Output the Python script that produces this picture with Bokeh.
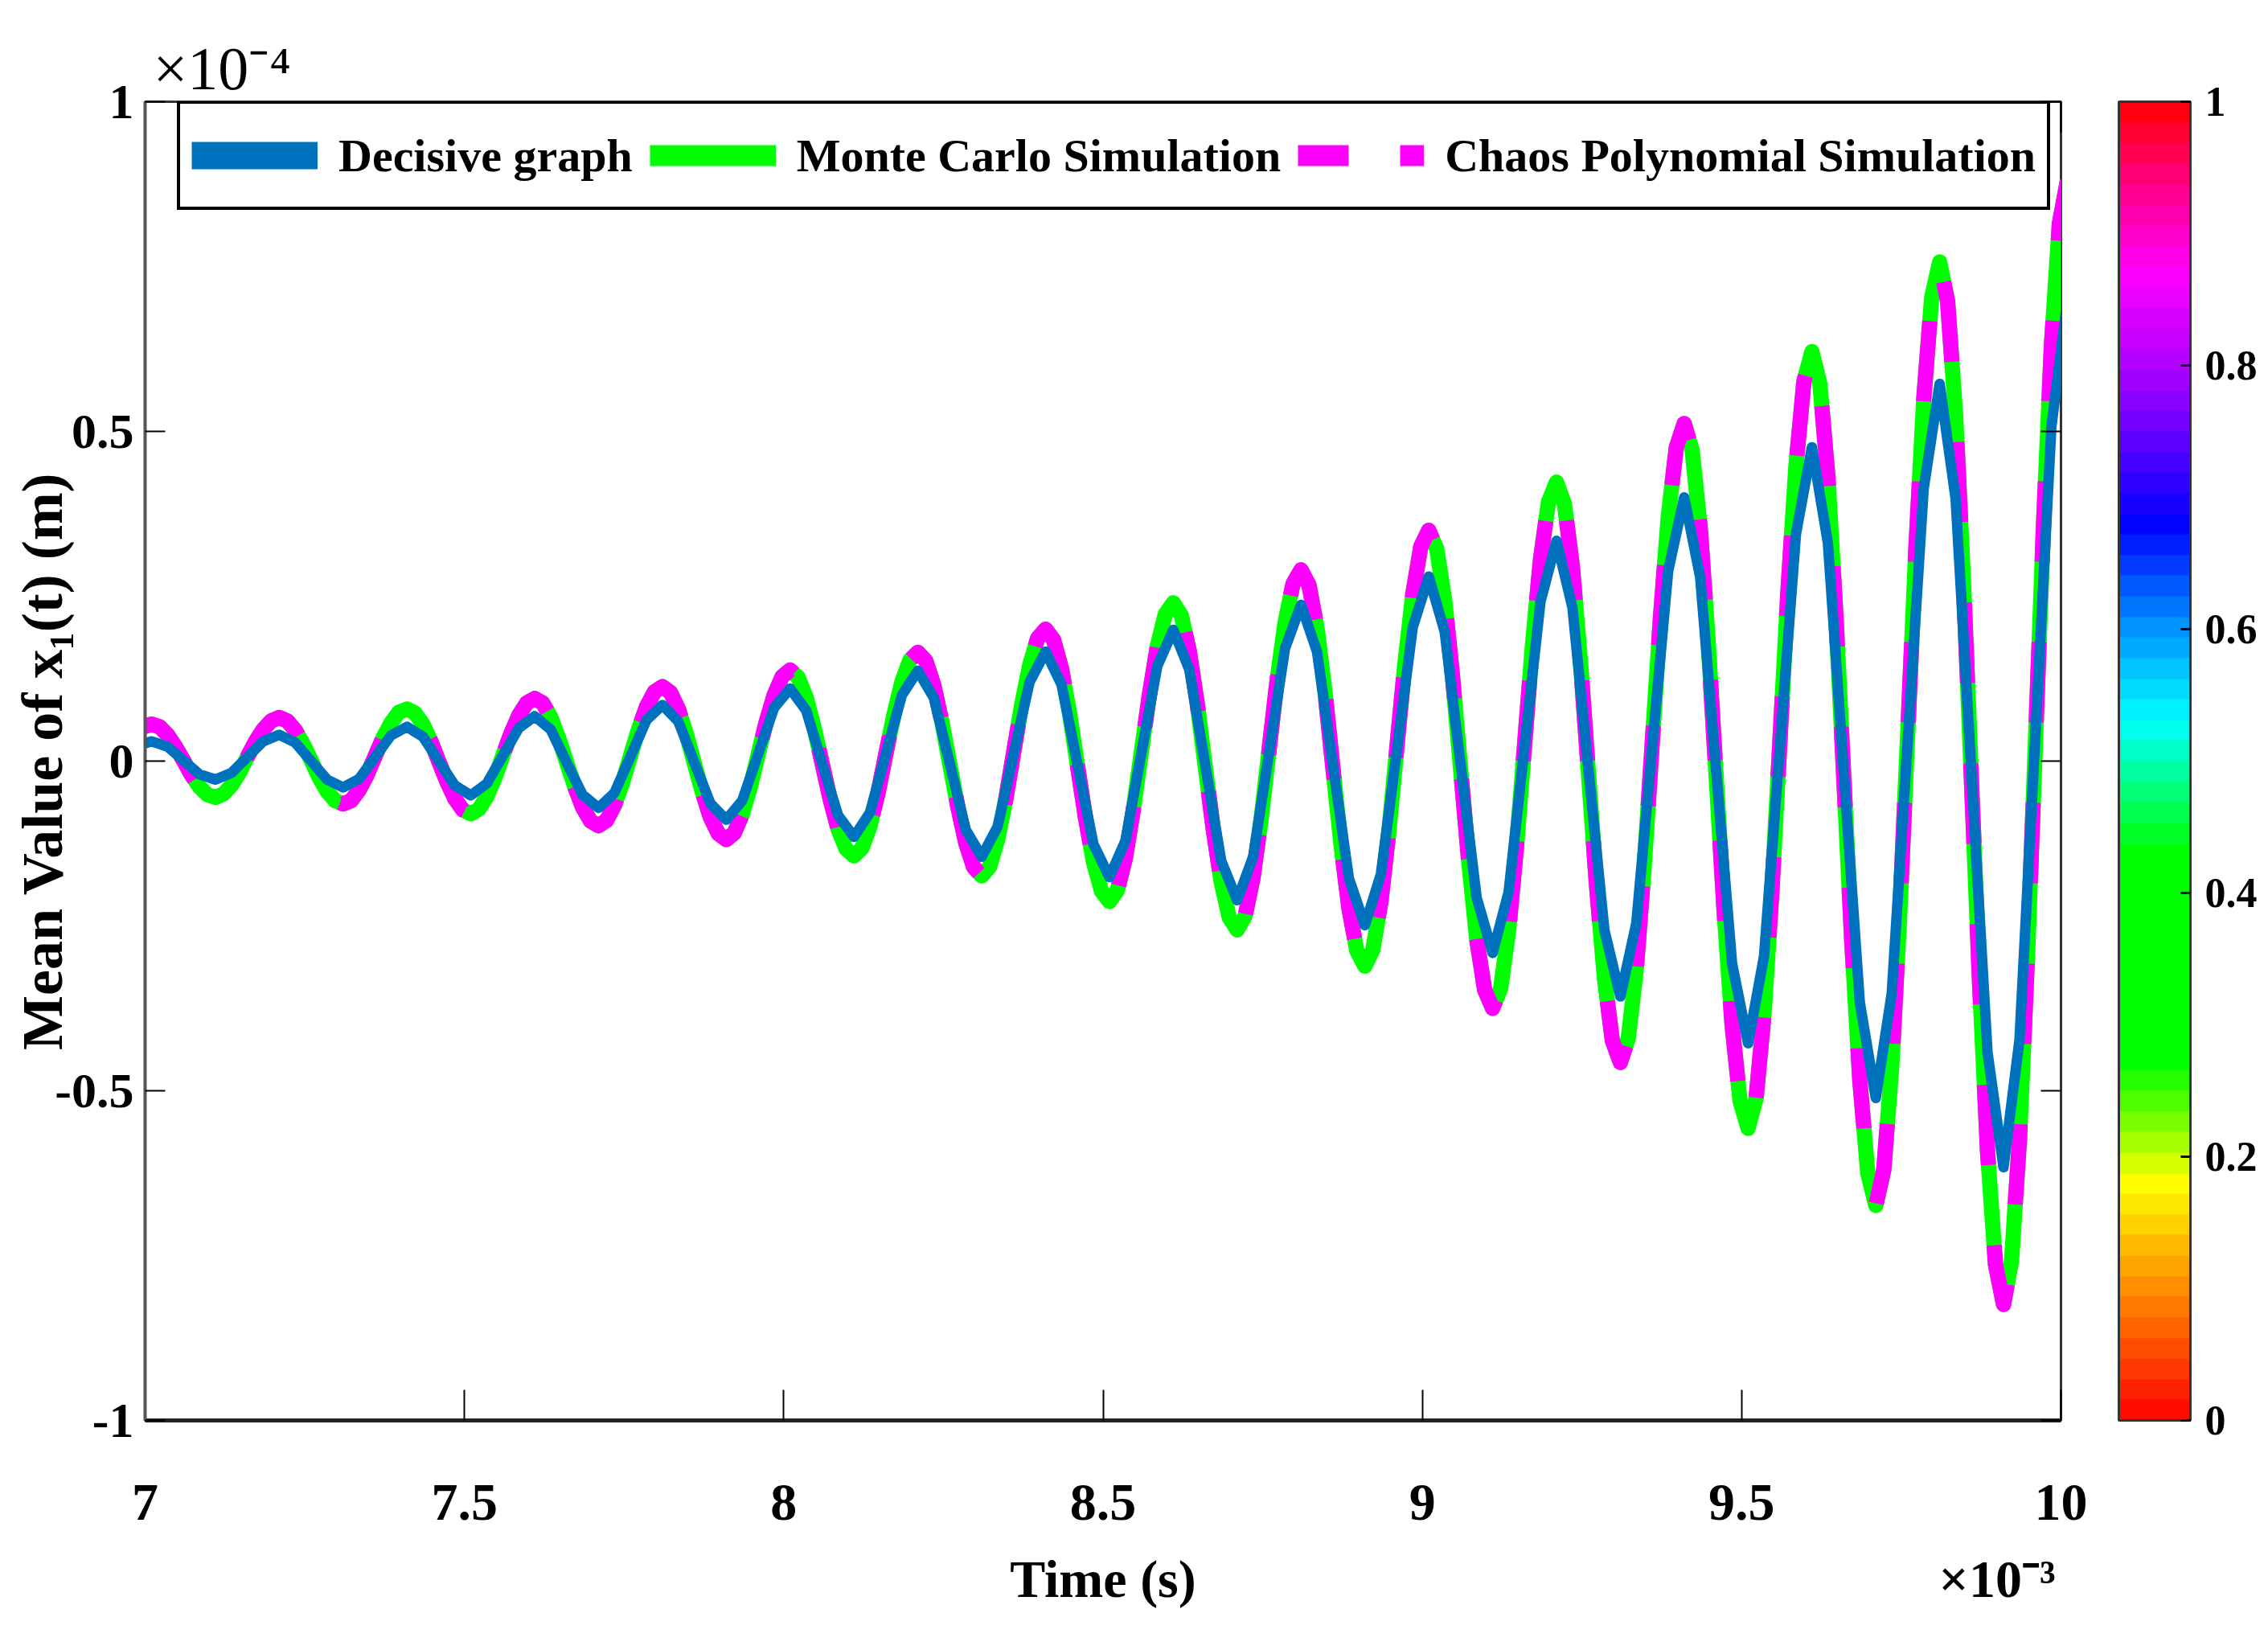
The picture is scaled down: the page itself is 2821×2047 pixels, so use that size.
from bokeh.plotting import figure
from bokeh.models import (Range1d, FixedTicker, CustomJSTickFormatter, LinearAxis, ColorBar,
                          LinearColorMapper, Legend, LegendItem, Title, ColumnDataSource)
from bokeh.embed import file_html
from bokeh.resources import INLINE

# ---------------- data (time in ms = x10^-3 s, displacement in x10^-4 m) ----------------
x_ticks = [7, 7.5, 8, 8.5, 9, 9.5, 10]
y_ticks = [-1, -0.5, 0, 0.5, 1]
cbar_ticks = [0, 0.2, 0.4, 0.6, 0.8, 1]
x_axis_label = "Time (s)"
x_exp_label = "\u00d710\u207b\u00b3"
y_exp_label = "\u00d710\u207b\u2074"
y_axis_label = "Mean Value of x\u2081(t) (m)"
series_labels = ["Decisive graph", "Monte Carlo Simulation", "Chaos Polynomial Simulation"]

# sample times of the read-off points
t_sim_ms = [round(7.01 + 0.0125 * k, 4) for k in range(-1, 241)]
t_dg_ms = [round(7.01 + 0.025 * k, 4) for k in range(-1, 121)]

monte_carlo = [
    0.052,
    0.056, 0.052, 0.040, 0.022, 0.001, -0.021, -0.039, -0.051,
    -0.055, -0.050, -0.037, -0.018, 0.006, 0.029, 0.048, 0.061,
    0.066, 0.061, 0.047, 0.026, 0.001, -0.025, -0.046, -0.060,
    -0.065, -0.060, -0.044, -0.021, 0.007, 0.035, 0.058, 0.074,
    0.079, 0.073, 0.056, 0.030, -0.001, -0.031, -0.057, -0.074,
    -0.080, -0.073, -0.054, -0.026, 0.008, 0.041, 0.069, 0.088,
    0.095, 0.088, 0.067, 0.035, -0.002, -0.038, -0.070, -0.091,
    -0.098, -0.090, -0.067, -0.033, 0.008, 0.048, 0.082, 0.105,
    0.113, 0.104, 0.079, 0.041, -0.003, -0.047, -0.085, -0.110,
    -0.119, -0.109, -0.081, -0.040, 0.010, 0.059, 0.100, 0.128,
    0.138, 0.127, 0.097, 0.051, -0.003, -0.057, -0.103, -0.133,
    -0.144, -0.132, -0.099, -0.049, 0.011, 0.070, 0.120, 0.153,
    0.165, 0.152, 0.115, 0.060, -0.005, -0.069, -0.124, -0.161,
    -0.174, -0.160, -0.119, -0.059, 0.013, 0.085, 0.145, 0.186,
    0.200, 0.184, 0.140, 0.073, -0.007, -0.086, -0.153, -0.197,
    -0.213, -0.196, -0.147, -0.073, 0.014, 0.100, 0.174, 0.223,
    0.240, 0.221, 0.167, 0.087, -0.008, -0.103, -0.183, -0.237,
    -0.256, -0.235, -0.176, -0.088, 0.017, 0.122, 0.210, 0.269,
    0.290, 0.267, 0.202, 0.105, -0.011, -0.126, -0.223, -0.288,
    -0.311, -0.286, -0.214, -0.107, 0.020, 0.146, 0.253, 0.325,
    0.350, 0.322, 0.244, 0.126, -0.013, -0.151, -0.269, -0.347,
    -0.375, -0.345, -0.258, -0.129, 0.024, 0.177, 0.306, 0.393,
    0.423, 0.390, 0.294, 0.152, -0.017, -0.186, -0.328, -0.424,
    -0.457, -0.420, -0.315, -0.158, 0.028, 0.213, 0.370, 0.475,
    0.512, 0.471, 0.355, 0.182, -0.023, -0.227, -0.400, -0.516,
    -0.557, -0.512, -0.384, -0.194, 0.032, 0.258, 0.448, 0.576,
    0.621, 0.572, 0.431, 0.222, -0.027, -0.275, -0.484, -0.625,
    -0.674, -0.620, -0.464, -0.233, 0.042, 0.316, 0.547, 0.703,
    0.757, 0.697, 0.525, 0.269, -0.034, -0.336, -0.592, -0.764,
    -0.824, -0.759, -0.574, -0.298, 0.028, 0.354, 0.630, 0.815,
    0.880,
]

chaos_polynomial = [
    0.052,
    0.056, 0.052, 0.040, 0.022, 0.001, -0.021, -0.039, -0.051,
    -0.055, -0.050, -0.037, -0.018, 0.006, 0.029, 0.048, 0.061,
    0.066, 0.061, 0.047, 0.026, 0.001, -0.025, -0.046, -0.060,
    -0.065, -0.060, -0.044, -0.021, 0.007, 0.035, 0.058, 0.074,
    0.079, 0.073, 0.056, 0.030, -0.001, -0.031, -0.057, -0.074,
    -0.080, -0.073, -0.054, -0.026, 0.008, 0.041, 0.069, 0.088,
    0.095, 0.088, 0.067, 0.035, -0.002, -0.038, -0.070, -0.091,
    -0.098, -0.090, -0.067, -0.033, 0.008, 0.048, 0.082, 0.105,
    0.113, 0.104, 0.079, 0.041, -0.003, -0.047, -0.085, -0.110,
    -0.119, -0.109, -0.081, -0.040, 0.010, 0.059, 0.100, 0.128,
    0.138, 0.127, 0.097, 0.051, -0.003, -0.057, -0.103, -0.133,
    -0.144, -0.132, -0.099, -0.049, 0.011, 0.070, 0.120, 0.153,
    0.165, 0.152, 0.115, 0.060, -0.005, -0.069, -0.124, -0.161,
    -0.174, -0.160, -0.119, -0.059, 0.013, 0.085, 0.145, 0.186,
    0.200, 0.184, 0.140, 0.073, -0.007, -0.086, -0.153, -0.197,
    -0.213, -0.196, -0.147, -0.073, 0.014, 0.100, 0.174, 0.223,
    0.240, 0.221, 0.167, 0.087, -0.008, -0.103, -0.183, -0.237,
    -0.256, -0.235, -0.176, -0.088, 0.017, 0.122, 0.210, 0.269,
    0.290, 0.267, 0.202, 0.105, -0.011, -0.126, -0.223, -0.288,
    -0.311, -0.286, -0.214, -0.107, 0.020, 0.146, 0.253, 0.325,
    0.350, 0.322, 0.244, 0.126, -0.013, -0.151, -0.269, -0.347,
    -0.375, -0.345, -0.258, -0.129, 0.024, 0.177, 0.306, 0.393,
    0.423, 0.390, 0.294, 0.152, -0.017, -0.186, -0.328, -0.424,
    -0.457, -0.420, -0.315, -0.158, 0.028, 0.213, 0.370, 0.475,
    0.512, 0.471, 0.355, 0.182, -0.023, -0.227, -0.400, -0.516,
    -0.557, -0.512, -0.384, -0.194, 0.032, 0.258, 0.448, 0.576,
    0.621, 0.572, 0.431, 0.222, -0.027, -0.275, -0.484, -0.625,
    -0.674, -0.620, -0.464, -0.233, 0.042, 0.316, 0.547, 0.703,
    0.757, 0.697, 0.525, 0.269, -0.034, -0.336, -0.592, -0.764,
    -0.824, -0.759, -0.574, -0.298, 0.028, 0.354, 0.630, 0.815,
    0.880,
]

decisive = [
    0.022,
    0.030, 0.022, 0.001, -0.020,
    -0.028, -0.018, 0.006, 0.030,
    0.040, 0.028, 0.000, -0.028,
    -0.040, -0.027, 0.006, 0.039,
    0.052, 0.037, 0.000, -0.037,
    -0.052, -0.034, 0.008, 0.050,
    0.068, 0.048, -0.002, -0.051,
    -0.071, -0.048, 0.007, 0.062,
    0.085, 0.060, -0.002, -0.064,
    -0.089, -0.060, 0.011, 0.081,
    0.110, 0.077, -0.003, -0.082,
    -0.115, -0.078, 0.011, 0.100,
    0.137, 0.096, -0.004, -0.104,
    -0.145, -0.099, 0.011, 0.120,
    0.166, 0.116, -0.005, -0.126,
    -0.176, -0.121, 0.012, 0.144,
    0.199, 0.139, -0.006, -0.151,
    -0.211, -0.145, 0.013, 0.171,
    0.237, 0.166, -0.006, -0.178,
    -0.249, -0.172, 0.016, 0.203,
    0.280, 0.196, -0.006, -0.207,
    -0.291, -0.199, 0.022, 0.242,
    0.334, 0.233, -0.012, -0.256,
    -0.357, -0.246, 0.022, 0.289,
    0.400, 0.279, -0.014, -0.307,
    -0.428, -0.296, 0.024, 0.344,
    0.476, 0.331, -0.018, -0.366,
    -0.511, -0.352, 0.031, 0.413,
    0.572, 0.398, -0.022, -0.442,
    -0.616, -0.423, 0.042, 0.507,
    0.700,
]

# ---------------- styling ----------------
FONT = "Liberation Serif"
C_DG, C_MC, C_CP = "#0072BD", "#00FF00", "#FF00FF"


def hsv_like_palette(n=64):
    anchors = [(0.00, (255, 0, 0)), (0.10, (255, 140, 0)), (0.18, (255, 255, 0)),
               (0.27, (0, 255, 0)), (0.43, (0, 255, 0)), (0.53, (0, 255, 255)),
               (0.60, (0, 150, 255)), (0.68, (0, 0, 255)), (0.78, (150, 0, 255)),
               (0.87, (255, 0, 255)), (0.94, (255, 0, 128)), (1.00, (255, 0, 0))]
    out = []
    for i in range(n):
        v = (i + 0.5) / n
        for (a, ca), (b, cb) in zip(anchors[:-1], anchors[1:]):
            if a <= v <= b:
                f = (v - a) / (b - a)
                c = [int(round(ca[j] + f * (cb[j] - ca[j]))) for j in range(3)]
                out.append("#%02x%02x%02x" % tuple(c))
                break
    return out


fmt_code = "return (Math.round(tick*10)/10).toString();"
blank_code = "return '';"

W, H = 2813, 2039
p = figure(width=W, height=H, x_range=Range1d(7, 10), y_range=Range1d(-1, 1),
           output_backend="svg", toolbar_location=None,
           min_border_left=180, min_border_right=250, min_border_top=126, min_border_bottom=273)
p.background_fill_color = "white"
p.border_fill_color = "white"
p.xgrid.visible = False
p.ygrid.visible = False
p.outline_line_color = "#333333"
p.outline_line_width = 3

xa = p.xaxis[0]
xa.ticker = FixedTicker(ticks=x_ticks)
xa.formatter = CustomJSTickFormatter(code=fmt_code)
xa.major_tick_in = 38
xa.major_tick_out = 0
xa.minor_tick_line_color = None
xa.major_tick_line_width = 2
xa.major_tick_line_color = "black"
xa.axis_line_width = 5
xa.axis_line_color = "#222222"
xa.major_label_text_font = FONT
xa.major_label_text_font_size = "66px"
xa.major_label_text_font_style = "bold"
xa.major_label_text_color = "black"
xa.major_label_standoff = 80

# second row below the axis: axis title and the x10^-3 multiplier on one line
time_ax = LinearAxis(ticker=FixedTicker(ticks=[8.5, 9.9]),
                     formatter=CustomJSTickFormatter(args=dict(a=x_axis_label, b=x_exp_label),
                                                     code="return tick < 9 ? a : b;"),
                     major_tick_in=0, major_tick_out=0, major_tick_line_color=None,
                     minor_tick_line_color=None, axis_line_color=None,
                     major_label_text_font=FONT, major_label_text_font_size="66px",
                     major_label_text_font_style="bold", major_label_text_color="black",
                     major_label_standoff=34)
p.add_layout(time_ax, "below")

ya = p.yaxis[0]
ya.ticker = FixedTicker(ticks=y_ticks)
ya.formatter = CustomJSTickFormatter(code=fmt_code)
ya.major_tick_in = 25
ya.major_tick_out = 0
ya.minor_tick_line_color = None
ya.major_tick_line_width = 2
ya.major_tick_line_color = "black"
ya.axis_line_width = 4
ya.axis_line_color = "#555555"
ya.major_label_text_font = FONT
ya.major_label_text_font_size = "62px"
ya.major_label_text_font_style = "bold"
ya.major_label_text_color = "black"
ya.major_label_standoff = 14
ya.axis_label = y_axis_label
ya.axis_label_text_font = FONT
ya.axis_label_text_font_size = "72px"
ya.axis_label_text_font_style = "bold"
ya.axis_label_text_color = "black"
ya.axis_label_standoff = -28

top_ax = LinearAxis(ticker=FixedTicker(ticks=x_ticks), formatter=CustomJSTickFormatter(code=blank_code),
                    major_tick_in=38, major_tick_out=0,
                    major_tick_line_width=2, minor_tick_line_color=None, axis_line_color=None,
                    major_label_standoff=0)
p.add_layout(top_ax, "above")
right_ax = LinearAxis(ticker=FixedTicker(ticks=y_ticks), formatter=CustomJSTickFormatter(code=blank_code),
                      major_tick_in=25, major_tick_out=0,
                      major_tick_line_width=2, minor_tick_line_color=None, axis_line_color=None,
                      major_label_standoff=0)
p.add_layout(right_ax, "right")

p.add_layout(Title(text=y_exp_label, align="left", offset=10, standoff=0,
                   text_font=FONT, text_font_size="76px", text_font_style="normal",
                   text_color="black"), "above")

# ---------------- lines ----------------
src_mc = ColumnDataSource(dict(t=t_sim_ms, y=monte_carlo))
src_cp = ColumnDataSource(dict(t=t_sim_ms, y=chaos_polynomial))
src_dg = ColumnDataSource(dict(t=t_dg_ms, y=decisive))
p.line("t", "y", source=src_mc, line_color=C_MC, line_width=19, line_join="round")
p.line("t", "y", source=src_cp, line_color=C_CP, line_width=19, line_join="round",
       line_dash="100 100")
p.line("t", "y", source=src_dg, line_color=C_DG, line_width=13, line_join="round")

# legend swatches (drawn thicker than the plotted lines, as in the original)
nan = float("nan")
lg_dg = p.line(x=[nan], y=[nan], line_color=C_DG, line_width=34)
lg_mc = p.line(x=[nan], y=[nan], line_color=C_MC, line_width=26)
lg_cp = p.line(x=[nan], y=[nan], line_color=C_CP, line_width=26, line_dash="63 64")

legend = Legend(items=[LegendItem(label=series_labels[0], renderers=[lg_dg]),
                       LegendItem(label=series_labels[1], renderers=[lg_mc]),
                       LegendItem(label=series_labels[2], renderers=[lg_cp])],
                orientation="horizontal", location=(40, 1505),
                border_line_color="black", border_line_width=4, border_line_alpha=1.0,
                background_fill_color="white", background_fill_alpha=1.0,
                label_text_font=FONT, label_text_font_size="58px", label_text_font_style="bold",
                label_text_color="black",
                glyph_width=157, glyph_height=100, label_height=100,
                label_standoff=26, spacing=21, padding=14, margin=0)
p.add_layout(legend)

# ---------------- colour bar ----------------
mapper = LinearColorMapper(palette=hsv_like_palette(64), low=0, high=1)
cb = ColorBar(color_mapper=mapper, ticker=FixedTicker(ticks=cbar_ticks),
              formatter=CustomJSTickFormatter(code=fmt_code),
              width=89, height=1640, location=(72, 0), margin=0, padding=0,
              label_standoff=18,
              major_label_text_font=FONT, major_label_text_font_size="52px",
              major_label_text_font_style="bold", major_label_text_color="black",
              major_tick_in=12, major_tick_out=0, major_tick_line_color="black",
              major_tick_line_width=3, minor_tick_line_color=None,
              bar_line_color="#333333", bar_line_width=3,
              border_line_color=None, background_fill_color=None)
p.add_layout(cb, "right")

open("out.html", "w").write(file_html(p, INLINE))
